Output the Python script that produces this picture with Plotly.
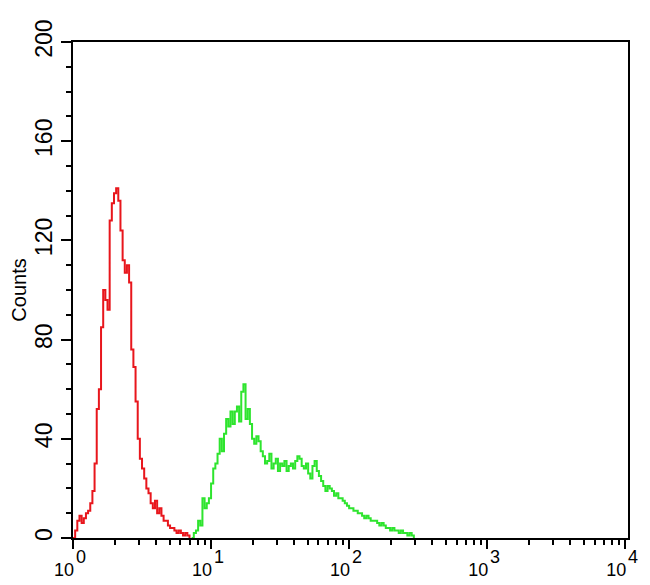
import math
import plotly.graph_objects as go

# Histogram channels: 64 channels per decade over 4 decades (log scale)
channels_per_decade = 64

red_first_channel = 0
red_counts = [0, 3, 7, 9, 6, 8, 10, 11, 14, 19, 30, 52, 60, 85, 100, 96, 92, 128, 135, 139,
              141, 136, 124, 112, 107, 110, 103, 76, 69, 55, 40, 32, 28, 24, 20, 18, 14, 12, 15, 10,
              12, 9, 7, 7, 5, 4, 4, 3, 2, 3, 2, 1, 2, 1, 0]

green_first_channel = 55
green_counts = [0, 2, 3, 7, 5, 16, 12, 14, 16, 22, 28, 30, 34, 40, 35, 42, 48, 45, 51, 46,
                51, 53, 47, 59, 62, 48, 52, 46, 40, 38, 41, 39, 35, 33, 30, 31, 34, 28, 30, 32,
                27, 30, 29, 31, 27, 29, 30, 28, 31, 33, 32, 29, 28, 30, 26, 24, 29, 31, 27, 25,
                23, 21, 19, 21, 20, 19, 17, 18, 16, 16, 15, 14, 13, 12, 12, 11, 11, 10, 10, 9,
                8, 9, 8, 7, 7, 7, 6, 5, 6, 5, 4, 4, 3, 4, 3, 3, 2, 3, 2, 2, 1, 2, 1, 0]

x_tick_vals = [1, 10, 100, 1000, 10000]
x_tick_base = "10"
x_tick_exps = ["0", "1", "2", "3", "4"]
y_tick_vals = [0, 40, 80, 120, 160, 200]
y_title = "Counts"


def channel_x(first, n):
    return [10 ** ((first + i) / channels_per_decade) for i in range(n)]


fig = go.Figure()
fig.add_trace(go.Scatter(
    x=channel_x(red_first_channel, len(red_counts)), y=red_counts,
    mode="lines", line=dict(color="#e8161c", width=2, shape="hv"),
    showlegend=False, hoverinfo="skip"))
fig.add_trace(go.Scatter(
    x=channel_x(green_first_channel, len(green_counts)), y=green_counts,
    mode="lines", line=dict(color="#2ee42e", width=2, shape="hv"),
    showlegend=False, hoverinfo="skip"))

minor_x = [m * 10 ** d for d in range(4) for m in range(2, 10)]

# exponents of the decade labels, drawn at the same size as the base "10"
for v, e in zip(x_tick_vals, x_tick_exps):
    fig.add_annotation(x=math.log10(v), xref="x", y=0, yref="paper", text=e, showarrow=False,
                       xanchor="left", yanchor="middle", xshift=1, yshift=-19,
                       font=dict(size=18, color="black"))

fig.update_layout(
    width=650, height=585,
    margin=dict(l=65, r=30, t=34, b=55),
    paper_bgcolor="white", plot_bgcolor="white",
    font=dict(family="Liberation Sans, Arial, sans-serif", color="black"),
    xaxis=dict(
        type="log", range=[0, 4.02], automargin=False,
        showgrid=False, zeroline=False,
        showline=True, linecolor="black", linewidth=2, mirror=True,
        ticks="outside", ticklen=9, tickwidth=2, tickcolor="black",
        tickvals=x_tick_vals,
        ticktext=[x_tick_base for _ in x_tick_vals],
        tickfont=dict(size=18), ticklabelshift=-9, ticklabelstandoff=5,
        minor=dict(tickvals=minor_x, ticks="outside", ticklen=5, tickwidth=2,
                   tickcolor="black", showgrid=False),
    ),
    yaxis=dict(
        range=[0, 200], automargin=False,
        showgrid=False, zeroline=False,
        showline=True, linecolor="black", linewidth=2, mirror=True,
        ticks="outside", ticklen=10, tickwidth=2, tickcolor="black",
        tickvals=y_tick_vals, tickangle=-90,
        tickfont=dict(size=23),
        minor=dict(dtick=10, ticks="outside", ticklen=5, tickwidth=2,
                   tickcolor="black", showgrid=False),
        title=dict(text=y_title, font=dict(size=20), standoff=16),
    ),
)

fig.write_html("out.html")
